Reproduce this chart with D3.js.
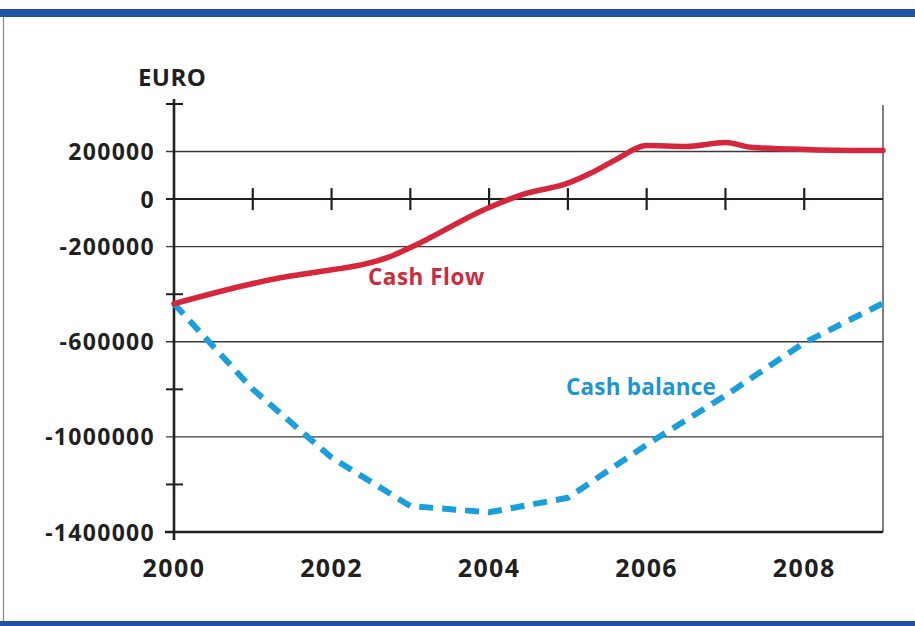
<!DOCTYPE html>
<html>
<head>
<meta charset="utf-8">
<script src="https://cdn.jsdelivr.net/npm/d3@7"></script>
<style>
  html, body { margin: 0; padding: 0; background: #fff; }
  svg { display: block; }
  text { font-family: "Open Sans", "Noto Sans", sans-serif; font-weight: 700; }
</style>
</head>
<body>
<svg id="chart" width="915" height="626"></svg>
<script>
// ---- data ----
const flowYears  = [2000, 2000.95, 2001.35, 2001.75, 2002.78, 2003.05, 2004, 2004.45, 2005, 2005.3, 2005.6, 2006, 2006.5, 2007, 2007.35, 2008.1, 2009];
const flowValues = [-440000, -359000, -331000, -310000, -237000, -196000, -35000, 22000, 67000, 111000, 164000, 225000, 221000, 238000, 217000, 208000, 204000];

const balanceYears  = [2000, 2001, 2002, 2003, 2004, 2005, 2006, 2007, 2008, 2009];
const balanceValues = [-440000, -800000, -1087000, -1291000, -1317000, -1256000, -1033000, -826000, -604000, -438000];

const yTickValues  = [400000, 200000, 0, -200000, -400000, -600000, -800000, -1000000, -1200000, -1400000];
const yLabelValues = [200000, 0, -200000, -600000, -1000000, -1400000];
const xLabelValues = [2000, 2002, 2004, 2006, 2008];
const xTickValues  = [2001, 2002, 2003, 2004, 2005, 2006, 2007, 2008];

const seriesNames = ["Cash Flow", "Cash balance"];
const unitLabel = "EURO";

// ---- layout ----
const svg = d3.select("#chart");
const x = d3.scaleLinear().domain([2000, 2009]).range([174, 883]);
const y = d3.scaleLinear().domain([400000, -1400000]).range([104, 532]);

const ink = "#231f20";
const red = "#d6263c";
const blue = "#1a9fdc";

// frame
svg.append("rect").attr("x", 0).attr("y", 9).attr("width", 915).attr("height", 8).attr("fill", "#1f52a3");
svg.append("rect").attr("x", 0).attr("y", 621).attr("width", 915).attr("height", 5).attr("fill", "#1f52a3");
svg.append("line").attr("x1", 3.5).attr("x2", 3.5).attr("y1", 17).attr("y2", 621)
  .attr("stroke", "#8a8a8a").attr("stroke-width", 1.2);

const g = svg.append("g");
// gridlines at labeled values
g.selectAll("line.grid").data(yLabelValues.filter(v => v !== 0 && v !== -1400000)).enter()
  .append("line").attr("class", "grid")
  .attr("x1", 166).attr("x2", x(2009))
  .attr("y1", d => y(d)).attr("y2", d => y(d))
  .attr("stroke", "#3a3a3a").attr("stroke-width", 1.4);

// right frame line
g.append("line").attr("x1", x(2009)).attr("x2", x(2009)).attr("y1", 105).attr("y2", y(-1400000))
  .attr("stroke", "#4a4a4a").attr("stroke-width", 1.4);

// zero line with year ticks
g.append("line").attr("x1", 166).attr("x2", x(2009)).attr("y1", y(0)).attr("y2", y(0))
  .attr("stroke", ink).attr("stroke-width", 2);
g.selectAll("line.xt").data(xTickValues).enter().append("line").attr("class", "xt")
  .attr("x1", d => x(d)).attr("x2", d => x(d))
  .attr("y1", y(0) - 11).attr("y2", y(0) + 11)
  .attr("stroke", ink).attr("stroke-width", 2.2);

// bottom axis line
g.append("line").attr("x1", 165).attr("x2", x(2009)).attr("y1", y(-1400000)).attr("y2", y(-1400000))
  .attr("stroke", ink).attr("stroke-width", 2.6);

// y axis line
g.append("line").attr("x1", x(2000)).attr("x2", x(2000)).attr("y1", 99).attr("y2", 540)
  .attr("stroke", ink).attr("stroke-width", 2.6);

// y ticks (crosses)
g.selectAll("line.yt").data(yTickValues.filter(v => yLabelValues.indexOf(v) < 0)).enter()
  .append("line").attr("class", "yt")
  .attr("x1", x(2000) - 8).attr("x2", x(2000) + 9)
  .attr("y1", d => y(d)).attr("y2", d => y(d))
  .attr("stroke", ink).attr("stroke-width", 2);

// y labels
g.selectAll("text.yl").data(yLabelValues).enter().append("text").attr("class", "yl")
  .attr("x", 155).attr("y", d => y(d) + 8.5)
  .attr("text-anchor", "end")
  .attr("font-size", 23).attr("letter-spacing", 1.3)
  .attr("fill", ink)
  .text(d => d3.format("d")(d).replace("−", "-"));

// x labels
g.selectAll("text.xl").data(xLabelValues).enter().append("text").attr("class", "xl")
  .attr("x", d => x(d)).attr("y", 577)
  .attr("text-anchor", "middle")
  .attr("font-size", 25).attr("letter-spacing", 1.4)
  .attr("fill", ink)
  .text(d => d);

// unit label
svg.append("text").attr("x", 138).attr("y", 86)
  .attr("font-size", 24).attr("letter-spacing", 0.4).attr("fill", ink).text(unitLabel);

// lines
const flowData = flowYears.map((d, i) => [d, flowValues[i]]);
const balData = balanceYears.map((d, i) => [d, balanceValues[i]]);
const line = d3.line().x(d => x(d[0])).y(d => y(d[1]));

svg.append("path").datum(balData).attr("d", line)
  .attr("fill", "none").attr("stroke", blue).attr("stroke-width", 6)
  .attr("stroke-dasharray", "14 9").attr("stroke-linejoin", "round");

svg.append("path").datum(flowData).attr("d", line.curve(d3.curveMonotoneX))
  .attr("fill", "none").attr("stroke", red).attr("stroke-width", 5.5)
  .attr("stroke-linejoin", "round").attr("stroke-linecap", "round");

// series labels
svg.append("text").attr("x", 368).attr("y", 285)
  .attr("font-size", 22.5).attr("font-weight", 600).attr("letter-spacing", 0.5)
  .attr("fill", "#cf2a3c").text(seriesNames[0]);
svg.append("text").attr("x", 566).attr("y", 395)
  .attr("font-size", 22.5).attr("font-weight", 600).attr("letter-spacing", 0.2)
  .attr("fill", "#1b95d4").text(seriesNames[1]);
</script>
</body>
</html>
